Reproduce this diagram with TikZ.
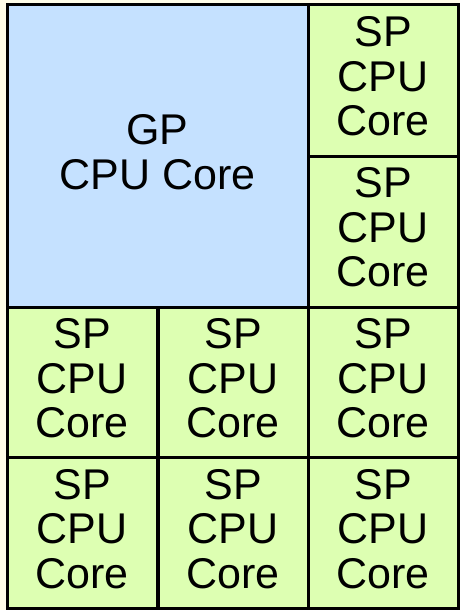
\documentclass[tikz,border=0pt]{standalone}
\usepackage{fontspec}
\setmainfont{Liberation Sans}
\definecolor{gpblue}{RGB}{197,225,255}
\definecolor{spgreen}{RGB}{221,255,178}
\definecolor{cream}{RGB}{255,253,232}
\begin{document}
\begin{tikzpicture}[x=1pt,y=-1pt,
  txt/.style={align=center, inner sep=0pt, font=\fontsize{43}{44.5}\selectfont, yshift=4pt},
  cell/.style={draw=black, line width=3pt, inner sep=0pt},
  spcell/.style={cell, fill=spgreen, minimum width=150pt, minimum height=151pt},
  gpcell/.style={cell, fill=gpblue, minimum width=301pt, minimum height=302pt}]
\fill[cream] (0,0) rectangle (460,610);
\useasboundingbox (0,0) rectangle (460,610);
\node[gpcell, label={[txt]center:GP\\CPU Core}] (gp) at (157.5,156) {};
\node[spcell, label={[txt]center:SP\\CPU\\Core}] (s1) at (383,80.5) {};
\node[spcell, label={[txt]center:SP\\CPU\\Core}] (s2) at (383,231.5) {};
\node[spcell, label={[txt]center:SP\\CPU\\Core}] (s3) at (82,382.5) {};
\node[spcell, label={[txt]center:SP\\CPU\\Core}] (s4) at (233,382.5) {};
\node[spcell, label={[txt]center:SP\\CPU\\Core}] (s5) at (383,382.5) {};
\node[spcell, label={[txt]center:SP\\CPU\\Core}] (s6) at (82,533) {};
\node[spcell, label={[txt]center:SP\\CPU\\Core}] (s7) at (233,533) {};
\node[spcell, label={[txt]center:SP\\CPU\\Core}] (s8) at (383,533) {};
\end{tikzpicture}
\end{document}
